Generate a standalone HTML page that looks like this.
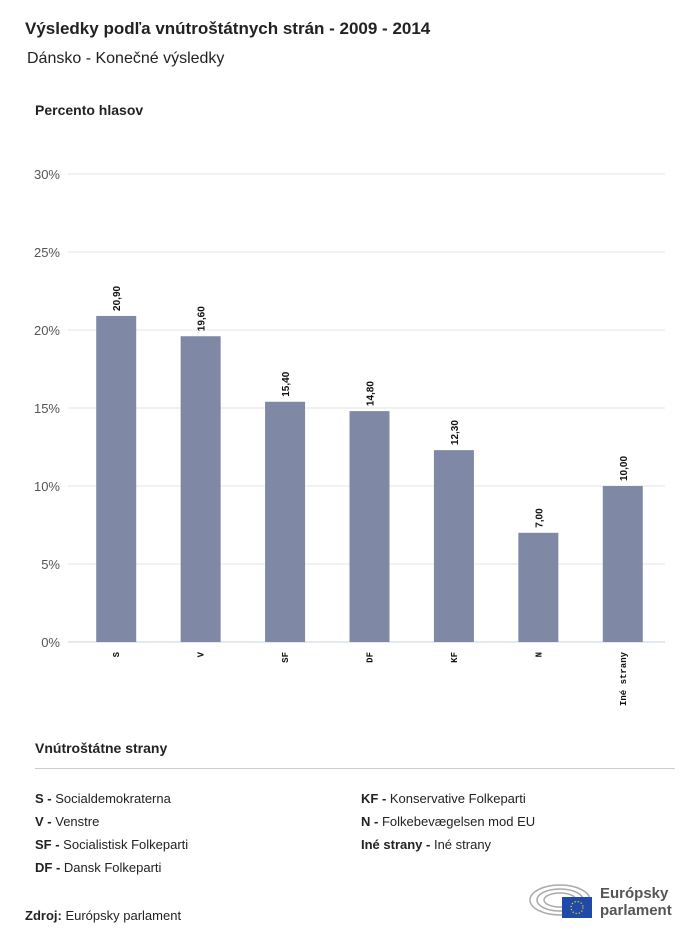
<!DOCTYPE html>
<html><head><meta charset="utf-8"><style>
body{margin:0;width:700px;height:941px;background:#fff;font-family:"Liberation Sans",sans-serif;color:#222;position:relative;overflow:hidden}
.a{position:absolute;white-space:nowrap}
</style></head><body>
<div class="a" style="left:25px;top:19px;font-size:17px;font-weight:bold">Výsledky podľa vnútroštátnych strán - 2009 - 2014</div>
<div class="a" style="left:27px;top:50px;font-size:16px">Dánsko - Konečné výsledky</div>
<div class="a" style="left:35px;top:102px;font-size:14px;font-weight:bold">Percento hlasov</div>
<svg class="a" style="left:0;top:0" width="700" height="730" id="chart"></svg>
<div class="a" style="left:35px;top:740px;font-size:14px;font-weight:bold">Vnútroštátne strany</div>
<div class="a" style="left:35px;top:768px;width:640px;height:1px;background:#ccc"></div>
<div class="a" style="left:35px;top:787px;font-size:13px;line-height:23px">
<div><b>S - </b>Socialdemokraterna</div>
<div><b>V - </b>Venstre</div>
<div><b>SF - </b>Socialistisk Folkeparti</div>
<div><b>DF - </b>Dansk Folkeparti</div></div>
<div class="a" style="left:361px;top:787px;font-size:13px;line-height:23px">
<div><b>KF - </b>Konservative Folkeparti</div>
<div><b>N - </b>Folkebevægelsen mod EU</div>
<div><b>Iné strany - </b>Iné strany</div></div>
<div class="a" style="left:25px;top:908px;font-size:13px"><b>Zdroj:</b> Európsky parlament</div>
<svg class="a" style="left:528px;top:882px" width="70" height="38">
<g fill="none" stroke="#aaa" stroke-width="1.5"><ellipse cx="32" cy="18" rx="30" ry="15"/><ellipse cx="32" cy="18" rx="23" ry="11"/><ellipse cx="32" cy="18" rx="16" ry="7"/></g>
<rect x="34" y="15" width="30" height="21" fill="#1f4aa8"/><circle cx="49" cy="25.5" r="6" fill="none" stroke="#ffdd00" stroke-width="1.2" stroke-dasharray="1.2 2"/></svg>
<div class="a" style="left:600px;top:885px;font-size:15px;font-weight:bold;color:#555;line-height:17px">Európsky<br>parlament</div>
<script>
const categories=["S","V","SF","DF","KF","N","Iné strany"];
const values=[20.90,19.60,15.40,14.80,12.30,7.00,10.00];
const valueLabels=["20,90","19,60","15,40","14,80","12,30","7,00","10,00"];
const ticks=[0,5,10,15,20,25,30];
const svg=document.getElementById('chart');const NS="http://www.w3.org/2000/svg";
const x0=74,x1=665,y0=642,yTop=174,yMax=30;
const y=v=>y0-(v/yMax)*(y0-yTop);
const step=(x1-x0)/categories.length;
const xc=i=>x0+step*(i+0.5);
function mk(t,a){const e=document.createElementNS(NS,t);for(const k in a)e.setAttribute(k,a[k]);svg.appendChild(e);return e;}
ticks.forEach(t=>{
const g=mk('line',{x1:68,x2:x1,y1:y(t),y2:y(t),stroke:t===0?'#c8d0e0':'#e6e6e6','stroke-width':1});


const l=mk('text',{x:60,y:y(t)+5,'text-anchor':'end','font-size':13,fill:'#555','font-family':'Liberation Sans'});
l.textContent=t+'%';


});
categories.forEach((c,i)=>{
const b=mk('rect',{x:xc(i)-20,y:y(values[i]),width:40,height:y0-y(values[i]),fill:'#7f89a5'});


const v=mk('text',{transform:`translate(${xc(i)+4},${y(values[i])-5}) rotate(-90)`,'font-size':10,'font-weight':'bold',fill:'#111','font-family':'Liberation Sans'});
v.textContent=valueLabels[i];


const xl=mk('text',{transform:`translate(${xc(i)+3},${y0+10}) rotate(-90)`,'text-anchor':'end','font-size':9,'font-weight':'bold',fill:'#111','font-family':'Liberation Mono'});
xl.textContent=c;


});
</script>
</body></html>
